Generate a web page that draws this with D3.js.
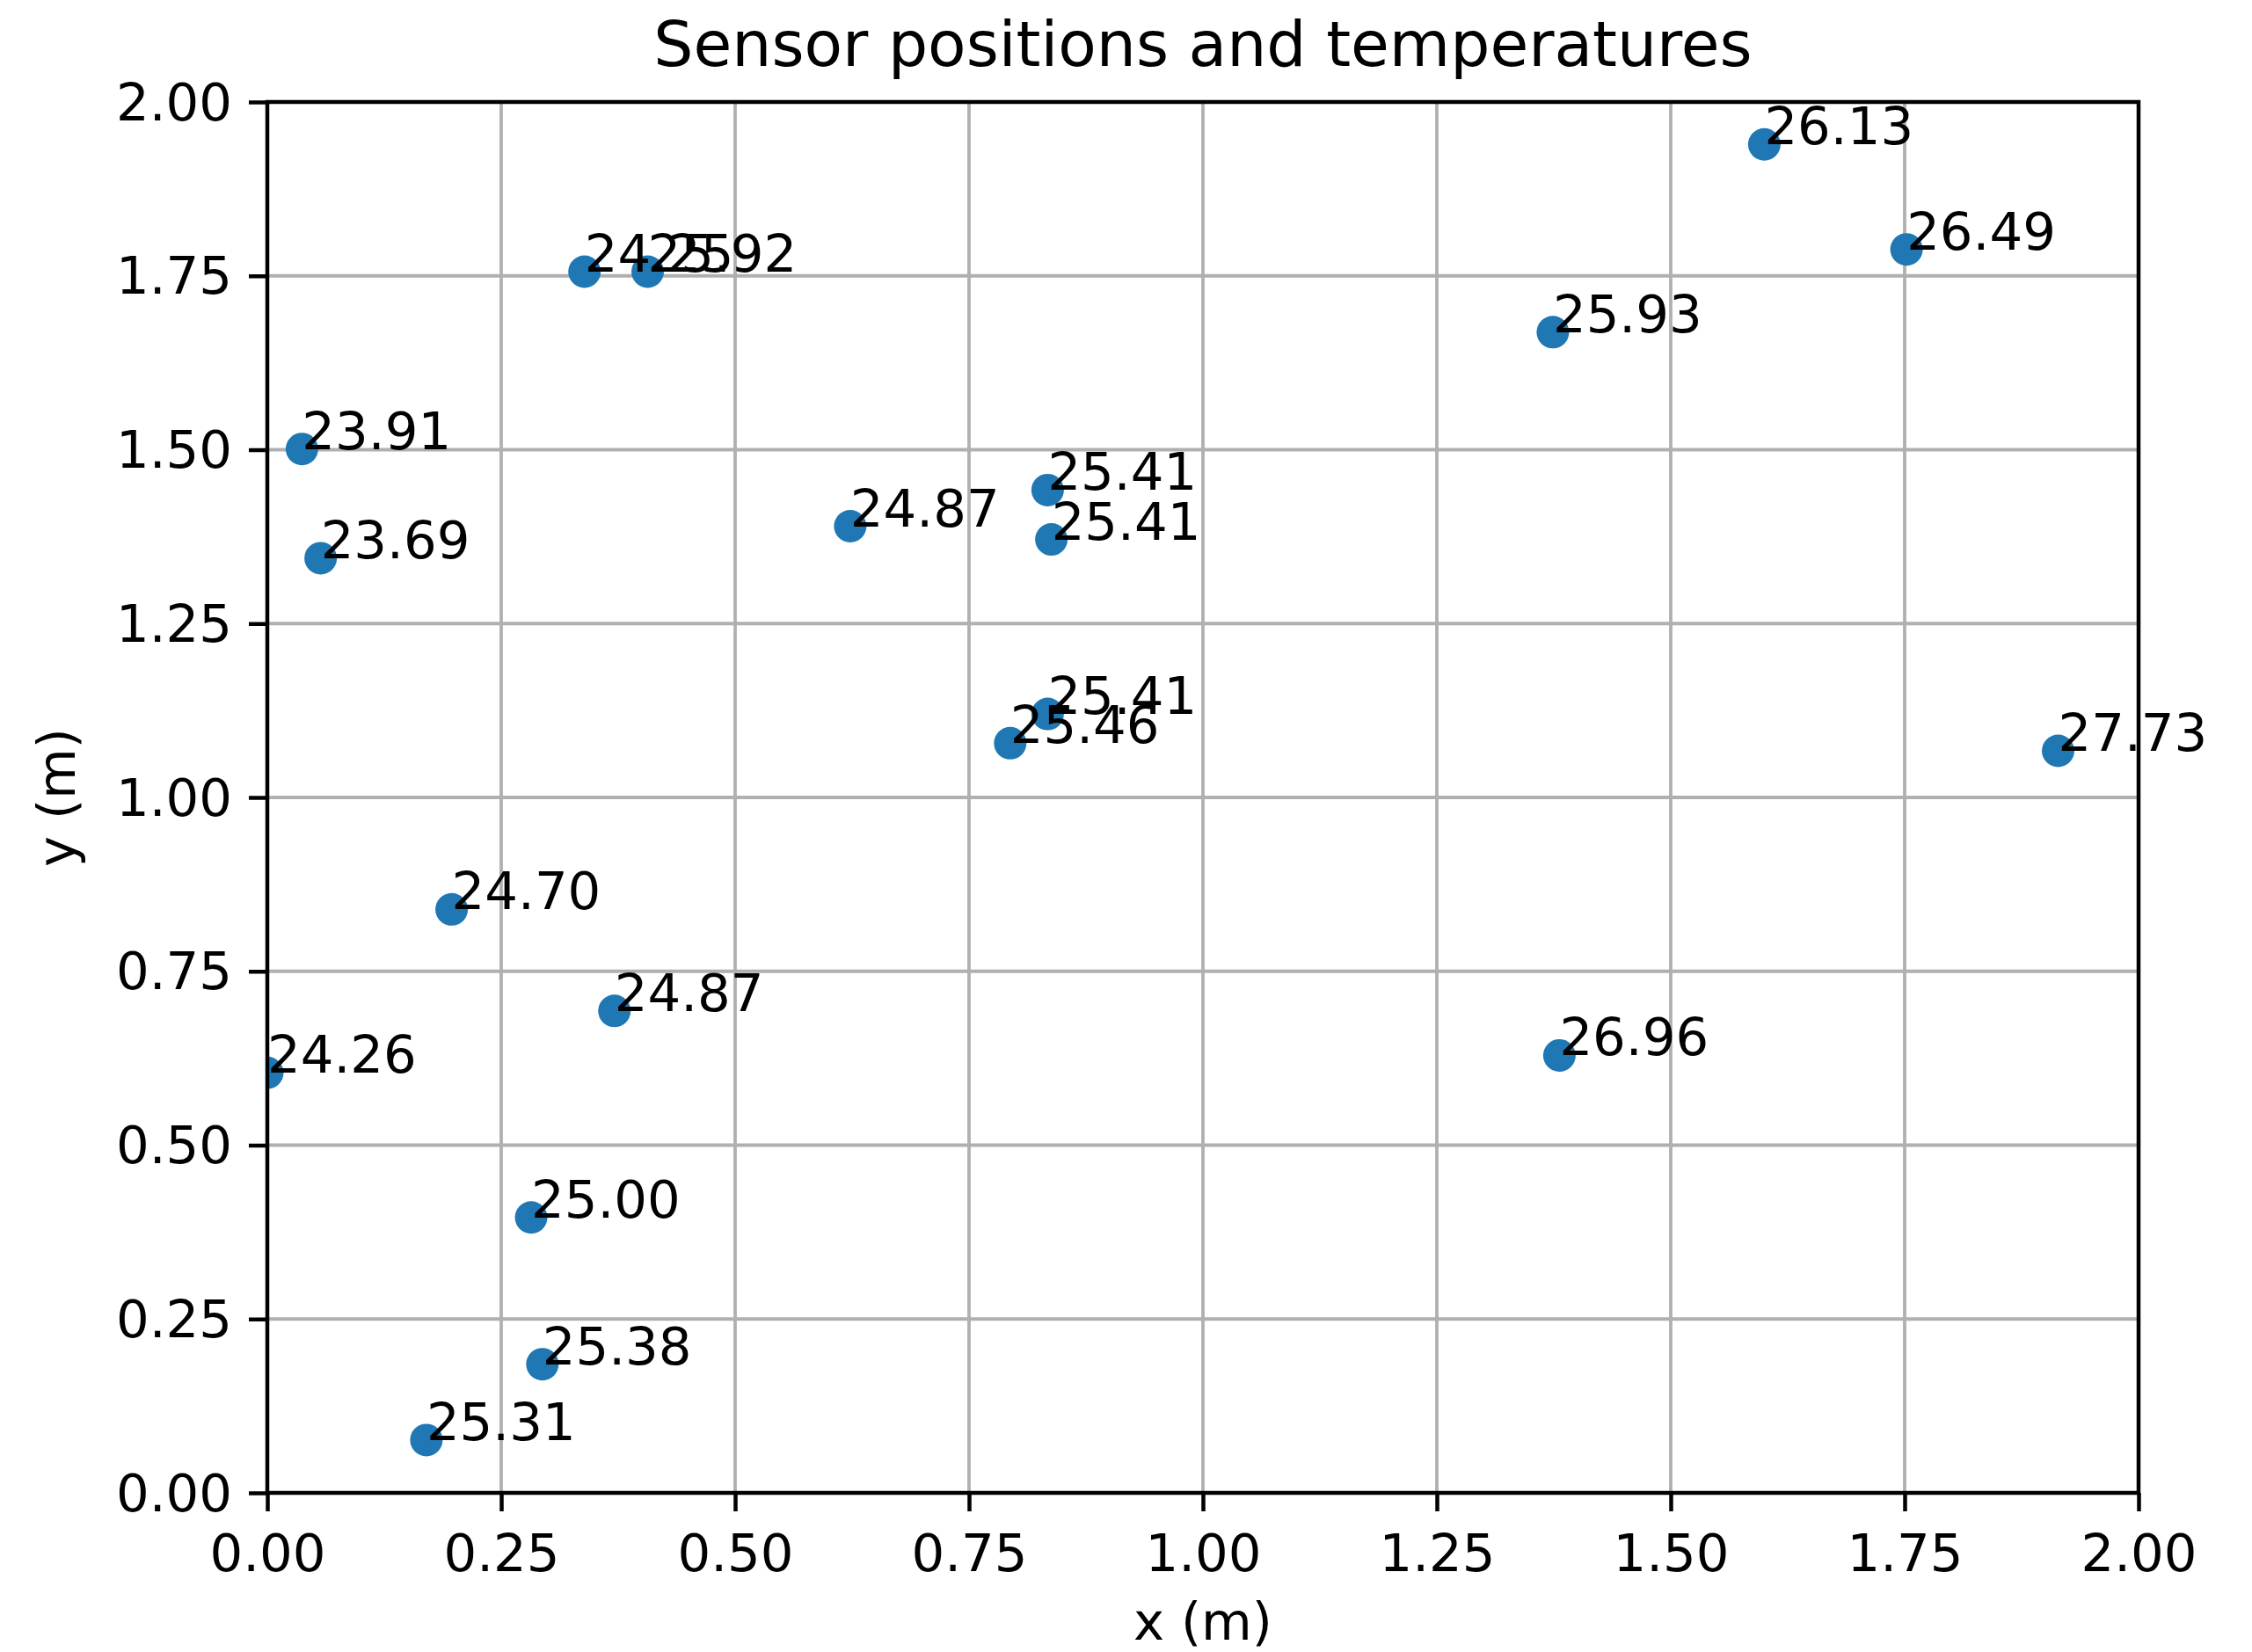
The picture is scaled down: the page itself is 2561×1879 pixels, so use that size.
<!DOCTYPE html>
<html>
<head>
<meta charset="utf-8">
<script src="https://cdn.jsdelivr.net/npm/d3@7"></script>
<style>
  html, body { margin: 0; padding: 0; background: #ffffff; }
  svg { display: block; }
  text { font-family: "DejaVu Sans", sans-serif; fill: #000; }
</style>
</head>
<body>
<script>
// Sensor coordinates (metres) and measured temperatures
const sensorX = [0.339, 0.4065, 0.037, 0.057, 0.623, 0.834, 0.838, 0.834, 0.794, 1.600,
                 1.752, 1.374, 1.914, 0.197, 0.371, 0.0, 1.381, 0.282, 0.294, 0.170];
const sensorY = [1.756, 1.756, 1.501, 1.344, 1.390, 1.442, 1.371, 1.120, 1.078, 1.939,
                 1.788, 1.669, 1.067, 0.839, 0.693, 0.604, 0.629, 0.396, 0.185, 0.076];
const temperatures = [24.25, 25.92, 23.91, 23.69, 24.87, 25.41, 25.41, 25.41, 25.46, 26.13,
                      26.49, 25.93, 27.73, 24.70, 24.87, 24.26, 26.96, 25.00, 25.38, 25.31];
const tickValues = [0, 0.25, 0.5, 0.75, 1.0, 1.25, 1.5, 1.75, 2.0];

const W = 2561, H = 1879;
const margin = { left: 304, top: 116, right: W - 2432, bottom: H - 1698 };
const pw = W - margin.left - margin.right;
const ph = H - margin.top - margin.bottom;

const tickFont = 59.3, titleFont = 71.2;
const tickLen = 21, tickPad = 21;

const svg = d3.select("body").append("svg")
  .attr("width", W).attr("height", H);

const x = d3.scaleLinear().domain([0, 2]).range([0, pw]);
const y = d3.scaleLinear().domain([0, 2]).range([ph, 0]);
const fmt = d3.format(".2f");

const g = svg.append("g").attr("transform", `translate(${margin.left},${margin.top})`);

g.append("clipPath").attr("id", "plot-clip")
  .append("rect").attr("width", pw).attr("height", ph);

// grid lines
const grid = g.append("g").attr("class", "grid");
grid.selectAll("line.vx").data(tickValues).join("line")
  .attr("x1", d => x(d)).attr("x2", d => x(d))
  .attr("y1", 0).attr("y2", ph)
  .attr("stroke", "#b0b0b0").attr("stroke-width", 3.8);
grid.selectAll("line.hy").data(tickValues).join("line")
  .attr("y1", d => y(d)).attr("y2", d => y(d))
  .attr("x1", 0).attr("x2", pw)
  .attr("stroke", "#b0b0b0").attr("stroke-width", 3.8);

// sensors
const pts = d3.range(sensorX.length).map(i => ({ x: sensorX[i], y: sensorY[i], t: temperatures[i] }));
g.append("g").attr("clip-path", "url(#plot-clip)")
  .selectAll("circle").data(pts).join("circle")
  .attr("cx", d => x(d.x)).attr("cy", d => y(d.y))
  .attr("r", 18.5).attr("fill", "#1f77b4");

// axes
const xAxis = d3.axisBottom(x).tickValues(tickValues).tickFormat(fmt)
  .tickSize(tickLen).tickPadding(tickPad).tickSizeOuter(0);
const yAxis = d3.axisLeft(y).tickValues(tickValues).tickFormat(fmt)
  .tickSize(tickLen).tickPadding(tickPad).tickSizeOuter(0);

const gx = g.append("g").attr("transform", `translate(0,${ph})`).call(xAxis);
const gy = g.append("g").call(yAxis);
[gx, gy].forEach(a => {
  a.select(".domain").remove();
  a.selectAll(".tick line").attr("stroke", "#000").attr("stroke-width", 4.5);
  a.selectAll(".tick text").attr("font-size", tickFont)
    .attr("font-family", "DejaVu Sans").attr("fill", "#000");
});
gx.selectAll(".tick text").attr("dy", null).attr("y", null)
  .attr("transform", `translate(0,${89})`).attr("dominant-baseline", "alphabetic");
gy.selectAll(".tick text").attr("dy", null).attr("x", -(tickLen + tickPad - 2))
  .attr("transform", "translate(0,20)").attr("dominant-baseline", "alphabetic");

// frame
g.append("rect").attr("width", pw).attr("height", ph)
  .attr("fill", "none").attr("stroke", "#000").attr("stroke-width", 4.5);

// temperature annotations
g.append("g").selectAll("text").data(pts).join("text")
  .attr("x", d => x(d.x)).attr("y", d => y(d.y))
  .attr("font-size", tickFont)
  .text(d => fmt(d.t));

// title and axis labels
svg.append("text").attr("x", margin.left + pw / 2).attr("y", 75)
  .attr("text-anchor", "middle").attr("font-size", titleFont)
  .text("Sensor positions and temperatures");
svg.append("text").attr("x", margin.left + pw / 2).attr("y", 1865)
  .attr("text-anchor", "middle").attr("font-size", tickFont)
  .text("x (m)");
svg.append("text")
  .attr("transform", `translate(85,${margin.top + ph / 2}) rotate(-90)`)
  .attr("text-anchor", "middle").attr("font-size", tickFont)
  .text("y (m)");
</script>
</body>
</html>
